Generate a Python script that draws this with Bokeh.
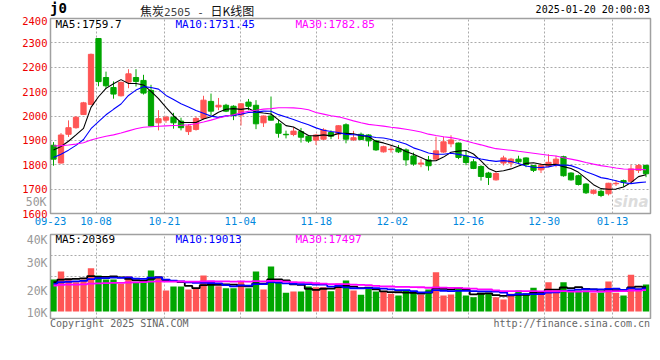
from bokeh.plotting import figure
from bokeh.layouts import column
from bokeh.models import Range1d, FixedTicker, LinearAxis, Label, Div
from bokeh.embed import file_html
from bokeh.resources import INLINE

# ---------------- data ----------------
dates = [
    "09-23", "09-24", "09-25", "09-26", "09-27", "09-30",
    "10-08", "10-09", "10-10", "10-11", "10-14", "10-15", "10-16", "10-17", "10-18",
    "10-21", "10-22", "10-23", "10-24", "10-25", "10-28", "10-29", "10-30", "10-31",
    "11-01", "11-04", "11-05", "11-06", "11-07", "11-08", "11-11", "11-12", "11-13",
    "11-14", "11-15", "11-18", "11-19", "11-20", "11-21", "11-22", "11-25", "11-26",
    "11-27", "11-28", "11-29",
    "12-02", "12-03", "12-04", "12-05", "12-06", "12-09", "12-10", "12-11", "12-12",
    "12-13", "12-16", "12-17", "12-18", "12-19", "12-20", "12-23", "12-24", "12-25",
    "12-26", "12-27", "12-30", "12-31",
    "01-02", "01-03", "01-06", "01-07", "01-08", "01-09", "01-10", "01-13", "01-14",
    "01-15", "01-16", "01-17", "01-20",
]

opens = [1880, 1807, 1925, 1952, 2006, 2047, 2318, 2158, 2117, 2083,
         2139, 2158, 2146, 2105, 1972, 1983, 1995, 1979, 1936, 1945,
         1990, 2060, 2037, 2044, 2040, 2004, 2057, 2044, 1972, 2000,
         1968, 1925, 1924, 1936, 1917, 1901, 1905, 1932, 1926, 1964,
         1902, 1925, 1922, 1898, 1853, 1862, 1867, 1861, 1836, 1803,
         1820, 1823, 1852, 1886, 1889, 1836, 1812, 1793, 1766, 1738,
         1807, 1807, 1823, 1828, 1797, 1779, 1794, 1801, 1833, 1766,
         1755, 1721, 1683, 1691, 1681, 1722, 1735, 1732, 1777, 1797]
highs = [1893, 1930, 1982, 2000, 2058, 2256, 2320, 2182, 2142, 2141,
         2192, 2192, 2169, 2128, 2024, 2001, 2013, 1993, 1966, 1997,
         2083, 2092, 2074, 2050, 2044, 2052, 2070, 2065, 2002, 2080,
         1985, 1940, 1954, 1951, 1919, 1926, 1950, 1941, 1962, 1970,
         1939, 1932, 1925, 1902, 1878, 1880, 1881, 1867, 1850, 1823,
         1836, 1915, 1915, 1921, 1891, 1857, 1823, 1798, 1771, 1769,
         1837, 1828, 1837, 1830, 1799, 1806, 1843, 1837, 1837, 1769,
         1759, 1724, 1700, 1700, 1726, 1737, 1739, 1800, 1803, 1801]
lows = [1796, 1805, 1914, 1948, 2004, 2045, 2122, 2112, 2071, 2080,
        2114, 2121, 2088, 1958, 1941, 1972, 1948, 1941, 1922, 1940,
        1985, 2002, 2024, 2016, 1983, 1961, 2024, 1946, 1955, 1982,
        1911, 1908, 1917, 1891, 1890, 1881, 1901, 1905, 1905, 1888,
        1898, 1901, 1875, 1857, 1850, 1850, 1848, 1796, 1796, 1790,
        1776, 1822, 1849, 1872, 1823, 1798, 1782, 1735, 1717, 1735,
        1797, 1790, 1806, 1790, 1770, 1766, 1790, 1790, 1751, 1735,
        1715, 1680, 1678, 1667, 1674, 1713, 1710, 1729, 1766, 1749]
closes = [1823, 1922, 1952, 1995, 2054, 2253, 2141, 2124, 2090, 2138,
          2173, 2142, 2094, 1959, 1989, 1995, 1972, 1952, 1959, 1990,
          2065, 2020, 2044, 2020, 2002, 2050, 2040, 1968, 2000, 1983,
          1929, 1923, 1938, 1913, 1897, 1922, 1943, 1917, 1960, 1905,
          1911, 1904, 1898, 1861, 1874, 1864, 1853, 1820, 1803, 1807,
          1796, 1857, 1894, 1902, 1830, 1809, 1785, 1752, 1748, 1764,
          1828, 1823, 1812, 1801, 1777, 1797, 1810, 1823, 1755, 1738,
          1719, 1685, 1694, 1674, 1724, 1724, 1728, 1783, 1797, 1763]
volumes = [26560, 33200, 27110, 24340, 26560, 35970, 29880, 26560, 26560, 22960,
           29320, 24340, 24340, 34030, 29320, 17430, 20750, 20750, 18260, 19640,
           29880, 22130, 21020, 19360, 19360, 24900, 19360, 33200, 18260, 37350,
           24900, 15490, 16600, 16600, 20750, 20190, 20190, 16870, 23240, 25730,
           17430, 13830, 18810, 16600, 16600, 14660, 13280, 17430, 15490, 13830,
           18260, 32650, 13280, 14110, 18810, 13280, 11890, 15490, 15490, 11890,
           9960, 14660, 17430, 15210, 19640, 13830, 24340, 17430, 24340, 17430,
           17430, 17430, 15490, 15490, 24900, 15490, 13280, 30500, 18810, 22500]

# sessions before 09-23 (estimated, only feed the moving averages)
prior_closes = [1880, 1870, 1885, 1900, 1910, 1895, 1905, 1920, 1915, 1900,
                1890, 1895, 1902, 1930, 1945, 1935, 1920, 1900, 1870, 1843,
                1790, 1785, 1800, 1810, 1812, 1850, 1845, 1865, 1920]
prior_volumes = [19500, 21000, 22500, 20000, 18800, 21500, 23000, 20500, 19800, 22000,
                 21200, 20300, 19600, 22800, 21700, 20400, 19900, 21600, 20800, 21100,
                 20500, 22800, 21000, 23200, 21000, 22500, 24800, 23140, 24500]

date_ticks = ["09-23", "10-08", "10-21", "11-04", "11-18", "12-02", "12-16", "12-30", "01-13"]
price_ticks = [1600, 1700, 1800, 1900, 2000, 2100, 2200, 2300, 2400]
vol_label_ticks = [10000, 20000, 30000, 40000]
vol_label_text = ["10K", "20K", "30K", "40K"]
vol_top_tick = 50000
vol_top_text = "50K"

symbol = "j0"
title_parts = ["焦炭", "2505 - ", "日K线图"]
stamp = "2025-01-20 20:00:03"
price_legend = ["MA5:1759.7", "MA10:1731.45", "MA30:1782.85"]
vol_legend = ["MA5:20369", "MA10:19013", "MA30:17497"]
copyright_text = "Copyright 2025 SINA.COM"
url_text = "http://finance.sina.com.cn"

# ---------------- styling ----------------
UP = "#ff5555"
DOWN = "#00a600"
MA_COLORS = ["#000000", "#0000ff", "#ff00ff"]
MA_N = [5, 10, 30]
GRID = "#aaaaaa"
MONO = "DejaVu Sans Mono"

N = len(dates)
X0 = -0.4
idx = list(range(N))


def moving_avg(vals, prior, n):
    full = list(prior) + list(vals)
    k = len(prior)
    return [sum(full[k + i - n + 1:k + i + 1]) / n for i in range(len(vals))]


tick_pos = [round(X0 + dates.index(d) * N / (N - 1), 6) for d in date_ticks]
colors = [UP if c >= o else DOWN for o, c in zip(opens, closes)]
body_top = [max(o, c) for o, c in zip(opens, closes)]
body_bot = [min(o, c) for o, c in zip(opens, closes)]


def style_frame(p):
    p.outline_line_color = "#a0a0a0"
    p.outline_line_width = 1.5
    p.background_fill_color = "white"
    p.border_fill_color = "white"
    for g in (p.xgrid, p.ygrid):
        g.grid_line_color = GRID
        g.grid_line_dash = "2 2"
        g.grid_line_width = 1


def plain_axis(ax, color, size, standoff=3):
    ax.axis_line_color = None
    ax.major_tick_line_color = None
    ax.minor_tick_line_color = None
    ax.major_tick_out = 0
    ax.major_tick_in = 0
    ax.major_label_standoff = standoff
    ax.major_label_text_color = color
    ax.major_label_text_font = MONO
    ax.major_label_text_font_size = size


# ---------------- header ----------------
CJK = "'Noto Sans CJK SC'"
header = Div(
    text=(
        '<div style="position:relative;width:660px;height:16px;overflow:visible;">'
        f'<span style="position:absolute;left:50px;top:2px;font:bold 14px \'DejaVu Sans Mono\';'
        f'line-height:13px;color:#000;">{symbol}</span>'
        f'<span style="position:absolute;left:140px;top:2px;line-height:13px;white-space:pre;">'
        f'<span style="font:12px {CJK};color:#111;">{title_parts[0]}</span>'
        f'<span style="font:11px \'DejaVu Sans Mono\';color:#444;">{title_parts[1]}</span>'
        f'<span style="font:12px {CJK};color:#111;">{title_parts[2]}</span></span>'
        f'<span style="position:absolute;right:10px;top:4px;font:10px \'DejaVu Sans Mono\';'
        f'line-height:11px;color:#000;">{stamp}</span>'
        '</div>'
    ),
    width=660, height=16, margin=0,
)

# ---------------- price panel ----------------
p1 = figure(frame_width=600, frame_height=195, x_range=Range1d(X0, X0 + N),
            y_range=Range1d(price_ticks[0], price_ticks[-1]),
            min_border_left=50, min_border_right=10, min_border_top=2, min_border_bottom=19,
            output_backend="svg", toolbar_location=None)
style_frame(p1)
p1.xgrid.ticker = FixedTicker(ticks=tick_pos)
p1.ygrid.ticker = FixedTicker(ticks=price_ticks)

ya = p1.yaxis[0]
ya.ticker = FixedTicker(ticks=price_ticks)
plain_axis(ya, "#ee0000", "10.5px")

xa = p1.xaxis[0]
xa.ticker = FixedTicker(ticks=tick_pos)
xa.major_label_overrides = {t: d for t, d in zip(tick_pos, date_ticks)}
plain_axis(xa, "#0088dd", "10.5px")

# the volume scale's top label, which Sina prints beside the price panel
p1.extra_y_ranges = {"vlab": Range1d(46000, 111000)}
ax50 = LinearAxis(y_range_name="vlab", ticker=FixedTicker(ticks=[vol_top_tick]),
                  major_label_overrides={vol_top_tick: vol_top_text})
plain_axis(ax50, "#999999", "11.5px", standoff=-27)
p1.add_layout(ax50, "left")

p1.segment(x0=idx, y0=highs, x1=idx, y1=lows, color=colors, line_width=1)
p1.vbar(x=idx, width=0.7, top=body_top, bottom=body_bot, fill_color=colors,
        line_color=colors, line_width=1)
for n, col in zip(MA_N, MA_COLORS):
    p1.line(idx, moving_avg(closes, prior_closes, n), color=col, line_width=1.1)

for i, (txt, col) in enumerate(zip(price_legend, MA_COLORS)):
    p1.add_layout(Label(x=5 + 120 * i, y=189, x_units="screen", y_units="screen", text=txt,
                        text_color=col, text_font=MONO, text_font_size="11px",
                        text_baseline="middle", text_align="left"))
p1.add_layout(Label(x=598, y=12, x_units="screen", y_units="screen", text="sina",
                    text_font="DejaVu Sans", text_font_style="bold italic",
                    text_font_size="15px", text_align="right",
                    text_color="#dcdcdc", text_baseline="middle"))

# ---------------- volume panel ----------------
VOL_LO, VOL_HI = -5800, 63900
p2 = figure(frame_width=600, frame_height=84, x_range=p1.x_range,
            y_range=Range1d(VOL_LO, VOL_HI),
            min_border_left=50, min_border_right=10, min_border_top=2, min_border_bottom=1,
            output_backend="svg", toolbar_location=None)
style_frame(p2)
p2.xaxis.visible = False
p2.yaxis.visible = False
p2.xgrid.ticker = FixedTicker(ticks=tick_pos)
p2.ygrid.ticker = FixedTicker(ticks=[VOL_LO + (VOL_HI - VOL_LO) * k / 4 for k in (1, 2, 3)])

p2.extra_y_ranges = {"vlab": Range1d(vol_label_ticks[0], vol_label_ticks[-1])}
va = LinearAxis(y_range_name="vlab", ticker=FixedTicker(ticks=vol_label_ticks),
                major_label_overrides={t: s for t, s in zip(vol_label_ticks, vol_label_text)})
plain_axis(va, "#999999", "11.5px")
p2.add_layout(va, "left")

p2.vbar(x=idx, width=0.85, top=volumes, bottom=0, fill_color=colors, line_color=None)
for n, col in zip(MA_N, MA_COLORS):
    p2.step(idx, moving_avg(volumes, prior_volumes, n), mode="center", color=col, line_width=1.8)

for i, (txt, col) in enumerate(zip(vol_legend, MA_COLORS)):
    p2.add_layout(Label(x=5 + 120 * i, y=79, x_units="screen", y_units="screen", text=txt,
                        text_color=col, text_font=MONO, text_font_size="11px",
                        text_baseline="middle", text_align="left"))

# ---------------- footer ----------------
footer = Div(
    text=(
        '<div style="position:relative;width:660px;height:14px;">'
        f'<span style="position:absolute;left:50px;top:0px;font:10px \'DejaVu Sans Mono\';'
        f'line-height:10px;color:#666;">{copyright_text}</span>'
        f'<span style="position:absolute;right:10px;top:0px;font:10px \'DejaVu Sans Mono\';'
        f'line-height:10px;color:#666;">{url_text}</span>'
        '</div>'
    ),
    width=660, height=14, margin=0,
)

layout = column(header, p1, p2, footer, spacing=0)
open("out.html", "w").write(file_html(layout, INLINE))
